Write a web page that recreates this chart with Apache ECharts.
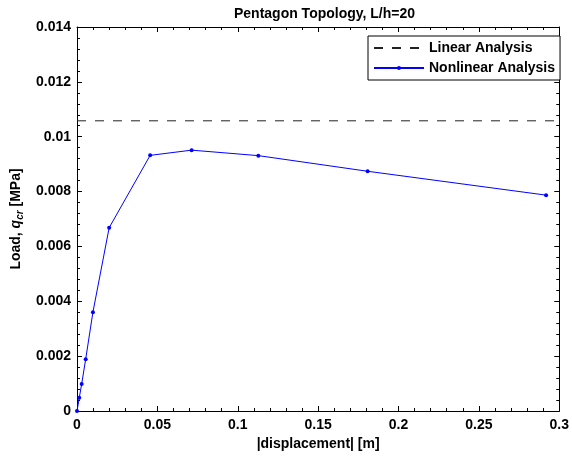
<!DOCTYPE html>
<html>
<head>
<meta charset="utf-8">
<script src="https://cdn.jsdelivr.net/npm/echarts@6/dist/echarts.min.js"></script>
<style>
  html, body { margin: 0; padding: 0; background: #fff; }
  #chart { width: 572px; height: 456px; }
</style>
</head>
<body>
<div id="chart"></div>
<script>
// values
const dispX = [0, 0.0014, 0.0029, 0.0054, 0.0099, 0.0200, 0.0455, 0.0713, 0.1128, 0.1808, 0.2918];
const loadY = [0, 0.00048, 0.00098, 0.00189, 0.0036, 0.00668, 0.00932, 0.00951, 0.00931, 0.00874, 0.00787];
const linearLoad = 0.01058;
const xRange = [0, 0.3];

const font = 'Liberation Sans, Arial, sans-serif';

const nonlinearData = dispX.map((x, i) => [x, loadY[i]]);
const linearData = [[xRange[0], linearLoad], [xRange[1], linearLoad]];

const myChart = echarts.init(document.getElementById('chart'));

// matlab style box: ticks pointing in on all four sides
const tickStyle = {
  axisLine: { show: true, onZero: false, lineStyle: { color: '#000', width: 1 } },
  axisTick: { show: true, inside: true, length: 5, lineStyle: { color: '#000' } },
  minorTick: { show: true, splitNumber: 5, length: 3, lineStyle: { color: '#000' } },
  splitLine: { show: false },
};

const option = {
  animation: false,
  backgroundColor: '#fff',
  title: {
    text: 'Pentagon Topology, L/h=20',
    left: 319.5,
    textAlign: 'center',
    top: 2,
    textStyle: { fontFamily: font, fontSize: 14, fontWeight: 'bold', color: '#000' }
  },
  legend: {
    orient: 'vertical',
    left: 368,
    top: 36,
    padding: [5, 5, 5, 5],
    itemGap: 6,
    itemWidth: 50,
    itemHeight: 5,
    borderColor: '#000',
    borderWidth: 1,
    backgroundColor: '#fff',
    textStyle: { fontFamily: font, fontSize: 14, fontWeight: 'bold', color: '#000' },
    data: [
      { name: 'Linear Analysis', itemStyle: { opacity: 0 } },
      { name: 'Nonlinear Analysis' }
    ]
  },
  grid: { left: 77, right: 10, top: 27, bottom: 45, show: false },
  xAxis: [
    Object.assign({
      type: 'value',
      min: xRange[0],
      max: xRange[1],
      interval: 0.05,
      name: '|displacement| [m]',
      nameLocation: 'middle',
      nameGap: 21,
      nameTextStyle: { fontFamily: font, fontSize: 14, fontWeight: 'bold', color: '#000' },
      axisLabel: { fontFamily: font, fontSize: 14, fontWeight: 'bold', color: '#000', margin: 7 },
    }, tickStyle),
    Object.assign({
      type: 'value',
      position: 'top',
      min: xRange[0],
      max: xRange[1],
      interval: 0.05,
      axisLabel: { show: false },
    }, tickStyle)
  ],
  yAxis: [
    Object.assign({
      type: 'value',
      min: 0,
      max: 0.014,
      interval: 0.002,
      name: 'Load, {i|q}{s|cr} [MPa]',
      nameLocation: 'middle',
      nameGap: 49,
      nameRotate: 90,
      nameTextStyle: {
        fontFamily: font, fontSize: 14, fontWeight: 'bold', color: '#000',
        rich: {
          i: { fontFamily: font, fontSize: 14, fontWeight: 'bold', fontStyle: 'italic', color: '#000' },
          s: { fontFamily: font, fontSize: 10, fontWeight: 'bold', fontStyle: 'italic', color: '#000', padding: [8, 0, 0, 0] }
        }
      },
      axisLabel: {
        fontFamily: font, fontSize: 14, fontWeight: 'bold', color: '#000', margin: 6,
        formatter: v => (v === 0 ? '0' : String(+v.toFixed(3)))
      },
    }, tickStyle),
    Object.assign({
      type: 'value',
      position: 'right',
      min: 0,
      max: 0.014,
      interval: 0.002,
      axisLabel: { show: false },
    }, tickStyle)
  ],
  series: [
    {
      name: 'Linear Analysis',
      type: 'line',
      data: linearData,
      symbol: 'none',
      lineStyle: { color: '#222', width: 1, type: [9, 9] },
      itemStyle: { color: '#000' },
      z: 2
    },
    {
      name: 'Nonlinear Analysis',
      type: 'line',
      data: nonlinearData,
      symbol: 'circle',
      symbolSize: 4,
      showAllSymbol: true,
      lineStyle: { color: '#0000ff', width: 1 },
      itemStyle: { color: '#0000ff' },
      z: 3
    }
  ]
};

myChart.setOption(option);
</script>
</body>
</html>
